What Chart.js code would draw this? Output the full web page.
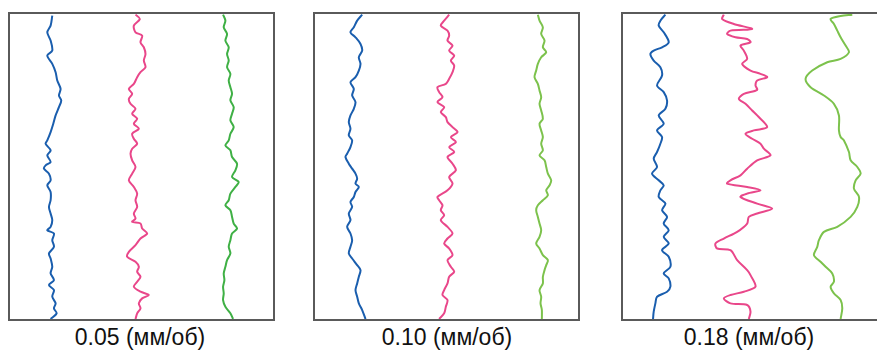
<!DOCTYPE html>
<html>
<head>
<meta charset="utf-8">
<script src="https://cdn.jsdelivr.net/npm/chart.js@4"></script>
<style>
  body { margin: 0; width: 877px; height: 351px; overflow: hidden; background: #fff; font-family: "Liberation Sans", Arial, sans-serif; }
  .panel { position: absolute; top: 12px; width: 263px; height: 305px; border: 2px solid #5a5a5a; }
  .panel canvas { display: block; }
  .label { position: absolute; top: 324px; width: 264px; text-align: center; font-size: 23px; color: #111; }
</style>
</head>
<body>
<div class="panel" style="left:8px"><canvas id="c1" width="263" height="305"></canvas></div>
<div class="panel" style="left:313px"><canvas id="c2" width="263" height="305"></canvas></div>
<div class="panel" style="left:621px"><canvas id="c3" width="263" height="305"></canvas></div>
<div class="label" style="left:8px">0.05 (мм/об)</div>
<div class="label" style="left:315px">0.10 (мм/об)</div>
<div class="label" style="left:617px">0.18 (мм/об)</div>
<script>
// feed labels
const feeds = ['0.05 (мм/об)', '0.10 (мм/об)', '0.18 (мм/об)'];

// profiles: [offset, position along sample]
const blue005 = [[155,45],[150,75],[140,95],[150,120],[155,150],[140,165],[155,190],[165,215],[170,240],[180,265],[175,285],[182,300],[175,320],[165,345],[158,370],[150,395],[140,420],[135,430],[150,450],[140,465],[150,485],[135,495],[130,505],[145,520],[150,540],[140,555],[150,575],[150,600],[145,620],[150,640],[155,660],[150,680],[140,690],[160,700],[155,720],[160,740],[145,760],[150,775],[155,800],[150,820],[160,840],[145,855],[160,870],[155,890],[165,910],[160,925],[168,940],[150,957]];
const pink005 = [[405,42],[418,55],[400,75],[405,95],[425,105],[420,125],[430,140],[435,160],[430,180],[435,200],[420,215],[410,230],[400,250],[385,265],[395,280],[385,295],[390,310],[405,325],[395,340],[410,355],[400,370],[415,385],[395,400],[400,415],[410,430],[395,445],[390,460],[395,480],[405,500],[395,520],[385,540],[400,560],[410,580],[405,600],[410,620],[400,640],[405,655],[395,665],[420,670],[425,685],[440,700],[420,715],[405,735],[385,755],[380,770],[405,785],[415,800],[410,815],[420,830],[410,845],[400,860],[420,875],[445,885],[425,895],[415,910],[420,925],[410,940],[405,957]];
const green005 = [[668,42],[675,60],[670,80],[680,100],[675,120],[685,140],[680,160],[685,180],[680,200],[690,220],[685,240],[690,260],[695,280],[690,300],[700,320],[695,340],[690,360],[700,380],[690,400],[685,420],[675,435],[690,450],[695,470],[710,490],[705,510],[695,530],[715,545],[705,560],[690,580],[685,600],[675,615],[690,630],[695,650],[700,670],[710,685],[695,700],[690,720],[685,740],[690,760],[680,780],[675,800],[670,820],[672,840],[668,860],[670,880],[668,900],[675,920],[690,940],[698,957]];

const blue010 = [[185,42],[170,60],[160,80],[150,95],[165,110],[180,130],[185,150],[175,170],[180,190],[175,210],[165,230],[150,245],[160,265],[155,285],[165,305],[160,325],[150,345],[145,365],[150,385],[145,405],[155,420],[150,440],[140,460],[135,470],[145,490],[155,505],[165,520],[170,535],[165,550],[175,560],[165,575],[160,590],[150,605],[155,620],[145,640],[150,660],[140,680],[150,700],[155,720],[150,740],[145,760],[155,775],[170,795],[180,810],[175,830],[170,850],[165,870],[170,890],[175,910],[185,930],[195,957]];
const pink010 = [[445,42],[430,60],[420,75],[440,90],[445,105],[440,120],[455,135],[445,150],[460,165],[450,180],[460,195],[455,215],[445,235],[435,250],[410,260],[415,275],[425,290],[410,305],[430,320],[420,335],[435,350],[440,365],[455,380],[470,395],[450,410],[465,425],[445,440],[460,455],[440,470],[455,490],[465,510],[445,530],[455,550],[440,570],[410,590],[415,600],[425,615],[420,630],[430,645],[420,660],[440,680],[455,700],[440,715],[430,730],[445,745],[455,765],[440,780],[450,800],[460,815],[445,830],[440,850],[430,870],[425,885],[440,900],[435,920],[430,940],[415,957]];
const green010 = [[710,42],[715,60],[725,80],[720,100],[730,120],[725,140],[735,155],[720,170],[710,190],[705,210],[700,230],[710,250],[715,270],[720,290],[715,310],[720,330],[725,355],[715,370],[720,390],[725,410],[720,430],[725,450],[715,465],[730,480],[735,500],[740,520],[750,540],[745,555],[735,570],[740,585],[725,600],[710,615],[705,630],[710,650],[715,670],[720,690],[715,710],[705,730],[715,745],[725,765],[740,780],[735,795],[730,810],[725,830],[725,850],[715,870],[720,890],[718,910],[722,930],[722,957]];

const blue018 = [[195,42],[180,60],[175,75],[190,95],[205,125],[185,140],[160,150],[150,160],[160,180],[180,200],[185,225],[170,255],[190,275],[200,300],[195,325],[175,345],[190,370],[170,390],[185,410],[180,430],[170,455],[160,475],[170,500],[155,520],[175,540],[190,555],[180,570],[175,590],[195,610],[185,630],[200,650],[190,670],[205,690],[190,710],[205,730],[185,750],[205,770],[210,800],[190,820],[205,835],[210,860],[200,875],[170,890],[165,910],[160,935],[158,957]];
const pink018 = [[370,42],[365,55],[400,70],[455,85],[390,90],[380,100],[405,110],[440,115],[450,125],[420,135],[430,150],[440,175],[425,190],[450,210],[480,220],[500,230],[470,240],[465,255],[470,268],[430,280],[415,295],[435,310],[455,330],[470,345],[500,380],[460,390],[435,400],[455,415],[480,430],[490,445],[510,465],[470,480],[440,505],[420,525],[390,540],[380,550],[440,560],[480,570],[440,580],[420,590],[470,610],[515,625],[470,640],[445,650],[440,670],[410,695],[370,715],[345,730],[350,745],[390,750],[410,780],[440,810],[450,825],[465,860],[430,875],[390,885],[370,895],[390,910],[440,915],[450,935],[445,957]];
const green018 = [[755,42],[720,46],[690,55],[700,70],[710,90],[720,110],[735,135],[745,155],[720,175],[680,185],[635,210],[615,235],[630,260],[670,285],[700,310],[715,345],[715,390],[720,410],[730,420],[745,455],[750,480],[770,500],[780,520],[765,540],[760,565],[775,590],[770,620],[750,650],[710,680],[670,695],[655,720],[650,740],[640,765],[660,785],[675,800],[695,820],[700,845],[690,860],[700,880],[720,900],[725,925],[720,957]];

// axis extents of each frame, in the same reading units
const xMin = [28, 44, 68];
const xMax = [818, 830, 856];
const yTop = 40;
const yBottom = 957;

const blueColor = '#1a5eae';
const pinkColor = '#e9478a';
const greenColors = ['#3fb045', '#7cc24c', '#7cc24c'];

function toPoints(arr) {
    return arr.map(p => ({ x: p[0], y: p[1] }));
}

function makeProfile(id, idx, blue, pink, green) {
    const ctx = document.getElementById(id).getContext('2d');
    const line = (data, color) => ({
        data: toPoints(data),
        showLine: true,
        borderColor: color,
        borderWidth: 2,
        pointRadius: 0,
        tension: 0.3,
        fill: false
    });
    return new Chart(ctx, {
        type: 'scatter',
        data: {
            datasets: [
                line(blue, blueColor),
                line(pink, pinkColor),
                line(green, greenColors[idx])
            ]
        },
        options: {
            responsive: false,
            animation: false,
            layout: { padding: 0 },
            scales: {
                x: { type: 'linear', min: xMin[idx], max: xMax[idx], display: false },
                y: { type: 'linear', min: yTop, max: yBottom, reverse: true, display: false }
            },
            plugins: {
                legend: { display: false },
                tooltip: { enabled: false },
                title: { display: false, text: feeds[idx] }
            }
        }
    });
}

makeProfile('c1', 0, blue005, pink005, green005);
makeProfile('c2', 1, blue010, pink010, green010);
makeProfile('c3', 2, blue018, pink018, green018);
</script>
</body>
</html>
